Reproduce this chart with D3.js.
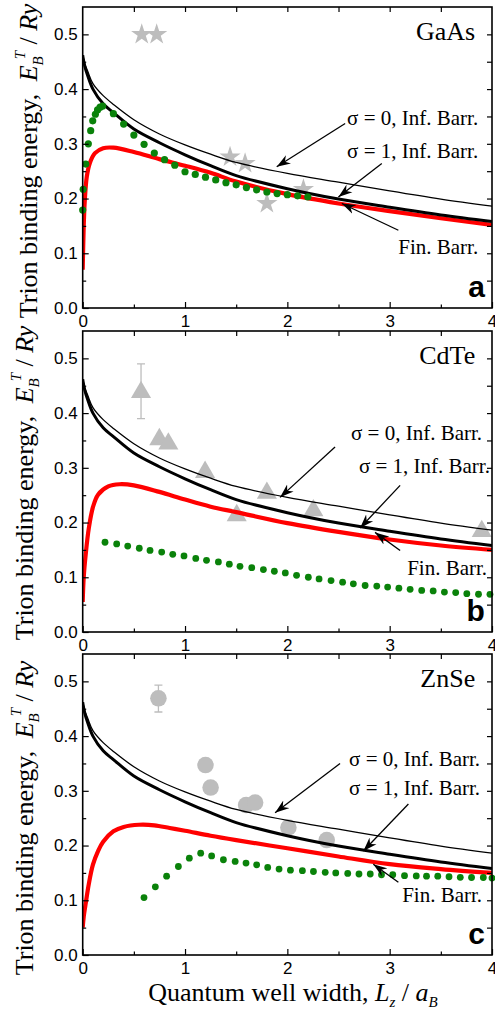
<!DOCTYPE html>
<html>
<head>
<meta charset="utf-8">
<script src="https://cdn.jsdelivr.net/npm/d3@7"></script>
<style>
  body { margin: 0; background: #fff; }
  svg text { font-family: "Liberation Serif", "Times New Roman", serif; fill: #000; }
</style>
</head>
<body>
<div id="chart"></div>
<script>
// infinite barrier curves, identical in the three panels
const lzInf  = [0, 0.02, 0.05, 0.1, 0.2, 0.3, 0.5, 0.75, 1.0, 1.25, 1.5, 2.0, 2.5, 3.0, 3.5, 4.0];
const sigma0 = [0.462, 0.447, 0.432, 0.410, 0.388, 0.372, 0.344, 0.318, 0.298, 0.281, 0.266, 0.246, 0.230, 0.214, 0.199, 0.186];
const sigma1 = [0.462, 0.442, 0.424, 0.400, 0.373, 0.357, 0.327, 0.302, 0.280, 0.260, 0.242, 0.218, 0.199, 0.184, 0.170, 0.158];

// finite barrier curves (red)
const finLzGaAs = [0, 0.01, 0.02, 0.04, 0.07, 0.12, 0.2, 0.3, 0.5, 0.75, 1.0, 1.25, 1.5, 2.0, 2.5, 3.0, 3.5, 4.0];
const finGaAs   = [0.07, 0.15, 0.195, 0.24, 0.265, 0.283, 0.292, 0.293, 0.285, 0.272, 0.260, 0.247, 0.231, 0.208, 0.191, 0.177, 0.164, 0.152];
const finLzCdTe = [0, 0.01, 0.03, 0.06, 0.1, 0.15, 0.25, 0.36, 0.5, 0.75, 1.0, 1.25, 1.5, 2.0, 2.5, 3.0, 3.5, 4.0];
const finCdTe   = [0.055, 0.10, 0.143, 0.19, 0.228, 0.251, 0.266, 0.27, 0.268, 0.256, 0.242, 0.229, 0.219, 0.199, 0.183, 0.169, 0.158, 0.150];
const finLzZnSe = [0, 0.01, 0.03, 0.06, 0.1, 0.15, 0.2, 0.3, 0.4, 0.55, 0.7, 0.85, 1.0, 1.25, 1.5, 2.0, 2.5, 3.0, 3.5, 4.0];
const finZnSe   = [0.05, 0.07, 0.095, 0.13, 0.165, 0.19, 0.207, 0.226, 0.234, 0.238, 0.237, 0.232, 0.227, 0.218, 0.210, 0.195, 0.180, 0.166, 0.157, 0.150];

// other calculation (green dots)
const calcLzGaAs = [0.0, 0.005, 0.03, 0.055, 0.078, 0.098, 0.124, 0.145, 0.17, 0.195, 0.3, 0.4, 0.5, 0.6, 0.7, 0.8, 0.9, 1.0, 1.1, 1.2, 1.3, 1.4, 1.5, 1.6, 1.7, 1.8, 1.9, 2.0, 2.1, 2.2];
const calcGaAs   = [0.179, 0.217, 0.263, 0.300, 0.324, 0.342, 0.354, 0.362, 0.367, 0.369, 0.355, 0.336, 0.316, 0.299, 0.283, 0.271, 0.261, 0.249, 0.244, 0.239, 0.234, 0.229, 0.225, 0.220, 0.216, 0.212, 0.209, 0.207, 0.205, 0.203];
const calcLzCdTe = [0.218, 0.332, 0.44, 0.553, 0.658, 0.772, 0.88, 0.99, 1.105, 1.21, 1.326, 1.433, 1.537, 1.652, 1.766, 1.873, 1.98, 2.09, 2.205, 2.31, 2.427, 2.54, 2.645, 2.76, 2.874, 2.98, 3.09, 3.2, 3.313, 3.425, 3.535, 3.645, 3.754, 3.868, 3.98];
const calcCdTe   = [0.164, 0.161, 0.157, 0.153, 0.149, 0.146, 0.142, 0.139, 0.1345, 0.131, 0.128, 0.124, 0.120, 0.1175, 0.114, 0.111, 0.108, 0.1035, 0.100, 0.097, 0.094, 0.091, 0.088, 0.085, 0.084, 0.082, 0.080, 0.078, 0.076, 0.075, 0.073, 0.072, 0.070, 0.069, 0.0688];
const calcLzZnSe = [0.599, 0.71, 0.82, 0.935, 1.042, 1.153, 1.26, 1.375, 1.49, 1.596, 1.70, 1.808, 1.919, 2.03, 2.147, 2.255, 2.37, 2.473, 2.59, 2.7, 2.81, 2.92, 3.03, 3.145, 3.26, 3.36, 3.47, 3.58, 3.69, 3.80, 3.915, 4.0];
const calcZnSe   = [0.105, 0.1246, 0.144, 0.1617, 0.177, 0.186, 0.181, 0.174, 0.171, 0.168, 0.1648, 0.160, 0.157, 0.155, 0.154, 0.1526, 0.151, 0.150, 0.149, 0.148, 0.148, 0.1466, 0.1466, 0.145, 0.1445, 0.144, 0.144, 0.143, 0.142, 0.1416, 0.1416, 0.1405];

// experiment (grey symbols)
const expLzGaAs = [0.577, 0.723, 1.44, 1.587, 1.80, 2.157];
const expGaAs   = [0.50, 0.50, 0.276, 0.264, 0.191, 0.2165];
const expLzCdTe = [0.57, 0.749, 0.837, 1.196, 1.505, 1.80, 2.254, 3.90];
const expCdTe   = [0.438, 0.352, 0.344, 0.292, 0.213, 0.254, 0.222, 0.184];
const errCdTe   = [[0.57, 0.39, 0.49]];
const expLzZnSe = [0.74, 1.20, 1.25, 1.597, 1.685, 2.01, 2.385];
const expZnSe   = [0.469, 0.347, 0.306, 0.274, 0.2785, 0.233, 0.21];
const errZnSe   = [[0.74, 0.444, 0.493]];

const xTicks = [0, 1, 2, 3, 4];
const yTicks = [0, 0.1, 0.2, 0.3, 0.4, 0.5];
const noteText = ["σ = 0, Inf. Barr.", "σ = 1, Inf. Barr.", "Fin. Barr."];

const width = 495, height = 1017;
const left = 82.7, right = 492, panelH = 301;

const zip = (xs, ys) => xs.map((v, i) => ({ x: v, y: ys[i] }));

const panels = [
  { name: "GaAs", tag: "a", top: 7, fin: zip(finLzGaAs, finGaAs), calc: zip(calcLzGaAs, calcGaAs),
    exp: zip(expLzGaAs, expGaAs), shape: d3.symbolStar, size: 140, err: [], labelY: 161, labelX: 37,
    notes: [ { t: [3.865, 0.334], a: [2.565, 0.337, 1.896, 0.258] },
             { t: [3.865, 0.274], a: [2.923, 0.264, 2.499, 0.203] },
             { t: [3.865, 0.099], a: [3.085, 0.142, 2.532, 0.191] } ] },
  { name: "CdTe", tag: "b", top: 331, fin: zip(finLzCdTe, finCdTe), calc: zip(calcLzCdTe, calcCdTe),
    exp: zip(expLzCdTe, expCdTe), shape: d3.symbolTriangle, size: 175, err: errCdTe, labelY: 483, labelX: 33,
    notes: [ { t: [3.903, 0.351], a: [2.466, 0.338, 1.929, 0.246] },
             { t: [3.98, 0.290], a: [3.102, 0.268, 2.711, 0.190] },
             { t: [3.952, 0.104], a: [3.102, 0.149, 2.857, 0.182] } ] },
  { name: "ZnSe", tag: "c", top: 654, fin: zip(finLzZnSe, finZnSe), calc: zip(calcLzZnSe, calcZnSe),
    exp: zip(expLzZnSe, expZnSe), shape: d3.symbolCircle, size: 215, err: errZnSe, labelY: 818, labelX: 33,
    notes: [ { t: [3.884, 0.345], a: [2.515, 0.350, 1.88, 0.260] },
             { t: [3.884, 0.292], a: [3.183, 0.276, 2.743, 0.190] },
             { t: [3.903, 0.097], a: [3.085, 0.133, 2.84, 0.166] } ] }
];

const svg = d3.select("#chart")
  .append("svg")
  .attr("width", width)
  .attr("height", height);

svg.append("defs").append("marker")
    .attr("id", "head")
    .attr("markerUnits", "userSpaceOnUse")
    .attr("viewBox", "0 0 14 10")
    .attr("refX", 13).attr("refY", 5)
    .attr("markerWidth", 15).attr("markerHeight", 11)
    .attr("orient", "auto")
  .append("path")
    .attr("d", "M0,0.5 L13,5 L0,9.5 L4,5 Z")
    .attr("fill", "#000")
    .attr("stroke", "none");

const x = d3.scaleLinear().domain([0, 4]).range([left, right]);

panels.forEach((p, k) => {
  const bottom = p.top + panelH;
  const y = d3.scaleLinear().domain([0, 0.55]).range([bottom, p.top]);
  const g = svg.append("g");

  g.append("clipPath").attr("id", "clip" + k)
    .append("rect").attr("x", left).attr("y", p.top).attr("width", right - left).attr("height", panelH);

  const plot = g.append("g").attr("clip-path", `url(#clip${k})`);

  // error bars + grey experiment symbols
  p.err.forEach(e => {
    const ex = x(e[0]);
    plot.append("path")
      .attr("d", `M${ex},${y(e[1])}V${y(e[2])}M${ex - 4},${y(e[1])}H${ex + 4}M${ex - 4},${y(e[2])}H${ex + 4}`)
      .attr("stroke", "#bdbdbd").attr("stroke-width", 1.3).attr("fill", "none");
  });
  plot.selectAll(".exp").data(p.exp).join("path")
    .attr("transform", d => `translate(${x(d.x)},${y(d.y)})`)
    .attr("d", d3.symbol().type(p.shape).size(p.size))
    .attr("fill", "#bdbdbd");

  // green dots
  g.selectAll(".calc").data(p.calc).join("circle")
    .attr("cx", d => x(d.x))
    .attr("cy", d => y(d.y))
    .attr("r", k === 0 ? 3.6 : 3.4)
    .attr("fill", "#0a820a");

  const line = d3.line().x(d => x(d.x)).y(d => y(d.y)).curve(d3.curveCatmullRom.alpha(0.5));

  plot.append("path").datum(p.fin).attr("d", line)
    .attr("fill", "none").attr("stroke", "#ff0000").attr("stroke-width", 4.2);
  plot.append("path").datum(zip(lzInf, sigma1)).attr("d", line)
    .attr("fill", "none").attr("stroke", "#000").attr("stroke-width", 3);
  plot.append("path").datum(zip(lzInf, sigma0)).attr("d", line)
    .attr("fill", "none").attr("stroke", "#000").attr("stroke-width", 1.3);

  // axes, ticks point inward
  const tickStyle = sel => {
    sel.select(".domain").remove();
    sel.selectAll("line").attr("stroke-width", 1.2);
    sel.selectAll("text")
      .style("font-family", "'Liberation Sans', Arial, sans-serif")
      .style("font-size", "17px");
  };
  g.append("g").attr("transform", `translate(0,${bottom})`)
    .call(d3.axisBottom(x).tickValues(xTicks).tickSize(-6).tickPadding(7).tickFormat(d3.format("d")))
    .call(tickStyle);
  g.append("g").attr("transform", `translate(0,${bottom})`)
    .call(d3.axisBottom(x).tickValues([0.5, 1.5, 2.5, 3.5]).tickSize(-3.5).tickFormat(""))
    .call(tickStyle);
  g.append("g").attr("transform", `translate(0,${p.top})`)
    .call(d3.axisTop(x).tickValues([0.5, 1, 1.5, 2, 2.5, 3, 3.5]).tickSize(-5).tickFormat(""))
    .call(tickStyle);
  g.append("g").attr("transform", `translate(${left},0)`)
    .call(d3.axisLeft(y).tickValues(yTicks).tickSize(-6).tickPadding(5).tickFormat(d3.format(".1f")))
    .call(tickStyle);
  g.append("g").attr("transform", `translate(${left},0)`)
    .call(d3.axisLeft(y).tickValues([0.05, 0.15, 0.25, 0.35, 0.45]).tickSize(-3.5).tickFormat(""))
    .call(tickStyle);
  g.append("g").attr("transform", `translate(${right},0)`)
    .call(d3.axisRight(y).tickValues(d3.range(1, 11).map(i => i * 0.05)).tickSize(-5).tickFormat(""))
    .call(tickStyle);

  g.append("rect")
    .attr("x", left).attr("y", p.top)
    .attr("width", right - left).attr("height", panelH)
    .attr("fill", "none").attr("stroke", "#000").attr("stroke-width", 1.6);

  // annotations
  p.notes.forEach((n, i) => {
    g.append("text")
      .attr("x", x(n.t[0])).attr("y", y(n.t[1]))
      .attr("text-anchor", "end")
      .style("font-size", "21px")
      .text(noteText[i]);
    g.append("line")
      .attr("x1", x(n.a[0])).attr("y1", y(n.a[1]))
      .attr("x2", x(n.a[2])).attr("y2", y(n.a[3]))
      .attr("stroke", "#000").attr("stroke-width", 1.3)
      .attr("marker-end", "url(#head)");
  });

  g.append("text")
    .attr("x", x(3.836)).attr("y", y(0.49))
    .attr("text-anchor", "end")
    .style("font-size", "26px")
    .text(p.name);

  g.append("text")
    .attr("x", x(3.93)).attr("y", y(0.02))
    .attr("text-anchor", "end")
    .style("font-family", "'Liberation Sans', Arial, sans-serif")
    .style("font-size", "30px")
    .style("font-weight", "bold")
    .text(p.tag);

  // y label
  const yl = g.append("text")
    .attr("transform", `translate(${p.labelX},${p.labelY}) rotate(-90)`)
    .attr("text-anchor", "middle")
    .style("font-size", "26px");
  yl.append("tspan").text("Trion binding energy, ");
  yl.append("tspan").attr("dx", 6).style("font-style", "italic").text("E");
  yl.append("tspan").attr("dy", 6).style("font-size", "15px").style("font-style", "italic").text("B");
  yl.append("tspan").attr("dx", -3).attr("dy", -18).style("font-size", "15px").style("font-style", "italic").text("T");
  yl.append("tspan").attr("dy", 12).text(" / ");
  yl.append("tspan").style("font-style", "italic").text("Ry");
});

// x label
const xl = svg.append("text")
  .attr("x", 293).attr("y", 1001)
  .attr("text-anchor", "middle")
  .style("font-size", "26px");
xl.append("tspan").text("Quantum well width, ");
xl.append("tspan").style("font-style", "italic").text("L");
xl.append("tspan").attr("dy", 6).style("font-size", "15px").style("font-style", "italic").text("z");
xl.append("tspan").attr("dy", -6).text(" / ");
xl.append("tspan").style("font-style", "italic").text("a");
xl.append("tspan").attr("dy", 6).style("font-size", "15px").style("font-style", "italic").text("B");
</script>
</body>
</html>
